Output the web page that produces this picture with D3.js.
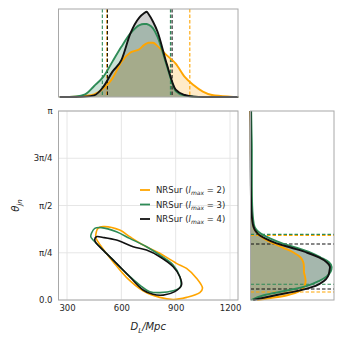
<!DOCTYPE html>
<html>
<head>
<meta charset="utf-8">
<script src="https://cdn.jsdelivr.net/npm/d3@7"></script>
<style>
  body { margin: 0; background: #fff; }
  text { font-family: "DejaVu Sans", sans-serif; fill: #262626; }
</style>
</head>
<body>
<svg id="frame"></svg>
<script>
const width = 343;
const height = 343;

// ---- data ----
const series = ["NRSur (lmax = 2)", "NRSur (lmax = 3)", "NRSur (lmax = 4)"];
const lmax = [2, 3, 4];
const colors = ["#ffa500", "#2e8b57", "#111111"];

const xTicks = [300, 600, 900, 1200];
const yTickVals = [0, Math.PI / 4, Math.PI / 2, 3 * Math.PI / 4, Math.PI];
const yTickLabels = ["0.0", "π/4", "π/2", "3π/4", "π"];

// D_L marginal (relative density)
const dlGrid = [260, 350, 400, 450, 500, 550, 600, 650, 700, 725, 740, 750, 775, 800, 850, 900, 950, 1000, 1050, 1100, 1200, 1245];
const dlOrange = [0, 1, 3, 8, 25, 55, 105, 133, 143, 155, 160, 162, 162, 152, 125, 100, 60, 35, 16, 6, 1, 0];
const dlGreen = [0, 2, 8, 33, 60, 105, 150, 190, 215, 218, 218, 216, 205, 180, 95, 18, 4, 1, 0, 0, 0, 0];
const dlBlack = [0, 0, 1, 5, 30, 75, 110, 190, 238, 250, 255, 248, 225, 195, 100, 22, 6, 1, 0, 0, 0, 0];
const dlBoundsOrange = [520, 978];
const dlBoundsGreen = [495, 871];
const dlBoundsBlack = [523, 880];

// theta_jn marginal (theta in units of pi)
const thGrid = [0, 0.025, 0.05, 0.075, 0.1, 0.125, 0.15, 0.175, 0.2, 0.225, 0.25, 0.275, 0.3, 0.325, 0.35, 0.4, 0.5, 0.6, 0.7, 0.8, 0.9, 1.0];
const thOrange = [20, 110, 150, 162, 165, 163, 160, 160, 158, 150, 130, 100, 68, 40, 22, 8, 3, 2, 1.5, 1, 1, 0];
const thGreen = [2, 40, 110, 170, 205, 228, 240, 243, 235, 210, 180, 140, 95, 60, 32, 10, 5, 4, 4, 4, 3, 2];
const thBlack = [8, 75, 145, 195, 220, 232, 236, 238, 228, 205, 170, 125, 78, 45, 22, 7, 2, 1, 0.5, 0.3, 0.2, 0];
const thBoundsOrange = [0.042, 0.342];
const thBoundsGreen = [0.083, 0.347];
const thBoundsBlack = [0.058, 0.296];

// 90% contours: [D_L, theta/pi]
const contourOrange = [[471, 0.379], [499, 0.388], [591, 0.370], [646, 0.335], [720, 0.291], [812, 0.247], [904, 0.194], [960, 0.167], [1015, 0.115], [1048, 0.062], [1033, 0.039], [960, 0.014], [886, 0.003], [812, 0.014], [720, 0.049], [628, 0.120], [554, 0.203], [490, 0.282], [459, 0.331], [462, 0.361]];
const contourGreen = [[435, 0.353], [453, 0.379], [490, 0.383], [573, 0.361], [646, 0.326], [739, 0.282], [812, 0.238], [886, 0.185], [923, 0.123], [927, 0.070], [886, 0.049], [812, 0.039], [757, 0.044], [702, 0.079], [628, 0.141], [554, 0.212], [481, 0.282], [444, 0.317], [431, 0.335]];
const contourBlack = [[453, 0.317], [462, 0.335], [499, 0.331], [573, 0.317], [665, 0.282], [739, 0.264], [812, 0.229], [886, 0.176], [923, 0.123], [932, 0.079], [895, 0.044], [831, 0.026], [775, 0.030], [720, 0.053], [646, 0.123], [573, 0.194], [499, 0.264], [462, 0.300]];

// ---- layout ----
const main = {left: 58.5, right: 238, top: 111, bottom: 300};
const topP = {left: 58.5, right: 238, top: 9, bottom: 97};
const rightP = {left: 250.5, right: 334, top: 111, bottom: 300};

const svg = d3.select('#frame').attr('width', width).attr('height', height);

const xScale = d3.scaleLinear().domain([253, 1244]).range([main.left, main.right]);
const yScale = d3.scaleLinear().domain([0, Math.PI]).range([main.bottom, main.top]);
const dScale = d3.scaleLinear().domain([0, 263]).range([topP.bottom, topP.top]);
const tScale = d3.scaleLinear().domain([0, 250]).range([rightP.left, rightP.right]);

const fillAlpha = [0.22, 0.25, 0.2];
const frameColor = "#a8a8a8";

// ---- main panel ----
const gMain = svg.append('g');
gMain.selectAll('.vgrid').data(xTicks).enter().append('line')
  .attr('x1', d => xScale(d)).attr('x2', d => xScale(d))
  .attr('y1', main.top).attr('y2', main.bottom)
  .attr('stroke', '#e3e3e3').attr('stroke-width', 0.9);
gMain.selectAll('.hgrid').data(yTickVals).enter().append('line')
  .attr('x1', main.left).attr('x2', main.right)
  .attr('y1', d => yScale(d)).attr('y2', d => yScale(d))
  .attr('stroke', '#e3e3e3').attr('stroke-width', 0.9);

const xaxis = d3.axisBottom(xScale).tickValues(xTicks).tickFormat(d3.format('d')).tickSize(0).tickPadding(5);
const gx = gMain.append('g').attr('transform', `translate(0,${main.bottom})`).call(xaxis);
gx.select('.domain').remove();
gx.selectAll('text').style('font-size', '8.5px').attr('fill', '#262626');

const yaxis = d3.axisLeft(yScale).tickValues(yTickVals).tickFormat((d, i) => yTickLabels[i]).tickSize(0).tickPadding(6);
const gy = gMain.append('g').attr('transform', `translate(${main.left},0)`).call(yaxis);
gy.select('.domain').remove();
gy.selectAll('text').style('font-size', '8.5px').attr('fill', '#262626');

const contourLine = d3.line()
  .x(d => xScale(d[0]))
  .y(d => yScale(d[1] * Math.PI))
  .curve(d3.curveCatmullRomClosed.alpha(0.5));

[contourOrange, contourGreen, contourBlack].forEach((c, i) => {
  gMain.append('path').attr('d', contourLine(c))
    .attr('fill', 'none').attr('stroke', colors[i]).attr('stroke-width', 1.6);
});

gMain.append('rect')
  .attr('x', main.left).attr('y', main.top)
  .attr('width', main.right - main.left).attr('height', main.bottom - main.top)
  .attr('fill', 'none').attr('stroke', frameColor).attr('stroke-width', 1);

// legend
const legend = gMain.append('g').attr('transform', 'translate(140,190)');
lmax.forEach((l, i) => {
  const row = legend.append('g').attr('transform', `translate(0,${i * 14.5})`);
  row.append('line').attr('x1', 0).attr('x2', 10).attr('y1', 0).attr('y2', 0)
    .attr('stroke', colors[i]).attr('stroke-width', 1.8);
  const t = row.append('text').attr('x', 16).attr('y', 3).style('font-size', '8.5px');
  t.append('tspan').text('NRSur (');
  t.append('tspan').style('font-style', 'italic').text('l');
  t.append('tspan').style('font-style', 'italic').style('font-size', '6px').attr('dy', 2).text('max');
  t.append('tspan').attr('dy', -2).text(` = ${l})`);
});

// axis labels
const xl = gMain.append('text').attr('x', (main.left + main.right) / 2).attr('y', 330)
  .attr('text-anchor', 'middle').style('font-size', '10px').style('font-style', 'italic');
xl.append('tspan').text('D');
xl.append('tspan').style('font-size', '7px').attr('dy', 2.5).text('L');
xl.append('tspan').attr('dy', -2.5).text('/Mpc');

const yl = gMain.append('text').attr('transform', `translate(19,${(main.top + main.bottom) / 2}) rotate(-90)`)
  .attr('text-anchor', 'middle').style('font-size', '10px').style('font-style', 'italic');
yl.append('tspan').text('θ');
yl.append('tspan').style('font-size', '7px').attr('dy', 2.5).text('jn');

// ---- top marginal ----
const gTop = svg.append('g');
const topSeries = [dlOrange, dlGreen, dlBlack];
const topArea = d3.area()
  .x((d, i) => xScale(dlGrid[i]))
  .y0(topP.bottom)
  .y1(d => dScale(d))
  .curve(d3.curveMonotoneX);
const topLine = topArea.lineY1();

topSeries.forEach((s, i) => {
  gTop.append('path').attr('d', topArea(s)).attr('fill', colors[i]).attr('fill-opacity', fillAlpha[i]);
});
[dlBoundsOrange, dlBoundsGreen, dlBoundsBlack].forEach((b, i) => {
  gTop.selectAll(null).data(b).enter().append('line')
    .attr('x1', d => xScale(d)).attr('x2', d => xScale(d))
    .attr('y1', topP.top).attr('y2', topP.bottom)
    .attr('stroke', colors[i]).attr('stroke-width', 1.1).attr('stroke-dasharray', '3.5,2');
});
topSeries.forEach((s, i) => {
  gTop.append('path').attr('d', topLine(s)).attr('fill', 'none')
    .attr('stroke', colors[i]).attr('stroke-width', 1.9);
});
gTop.append('rect')
  .attr('x', topP.left).attr('y', topP.top)
  .attr('width', topP.right - topP.left).attr('height', topP.bottom - topP.top)
  .attr('fill', 'none').attr('stroke', frameColor).attr('stroke-width', 1);

// ---- right marginal ----
const gRight = svg.append('g');
const rightSeries = [thOrange, thGreen, thBlack];
const rightArea = d3.area()
  .y((d, i) => yScale(thGrid[i] * Math.PI))
  .x0(rightP.left)
  .x1(d => tScale(d))
  .curve(d3.curveMonotoneY);
const rightLine = rightArea.lineX1();

rightSeries.forEach((s, i) => {
  gRight.append('path').attr('d', rightArea(s)).attr('fill', colors[i]).attr('fill-opacity', fillAlpha[i]);
});
[thBoundsOrange, thBoundsGreen, thBoundsBlack].forEach((b, i) => {
  gRight.selectAll(null).data(b).enter().append('line')
    .attr('x1', rightP.left).attr('x2', rightP.right)
    .attr('y1', d => yScale(d * Math.PI)).attr('y2', d => yScale(d * Math.PI))
    .attr('stroke', colors[i]).attr('stroke-width', 1.1).attr('stroke-dasharray', '3.5,2');
});
rightSeries.forEach((s, i) => {
  gRight.append('path').attr('d', rightLine(s)).attr('fill', 'none')
    .attr('stroke', colors[i]).attr('stroke-width', 1.9);
});
gRight.append('rect')
  .attr('x', rightP.left).attr('y', rightP.top)
  .attr('width', rightP.right - rightP.left).attr('height', rightP.bottom - rightP.top)
  .attr('fill', 'none').attr('stroke', frameColor).attr('stroke-width', 1);
</script>
</body>
</html>
